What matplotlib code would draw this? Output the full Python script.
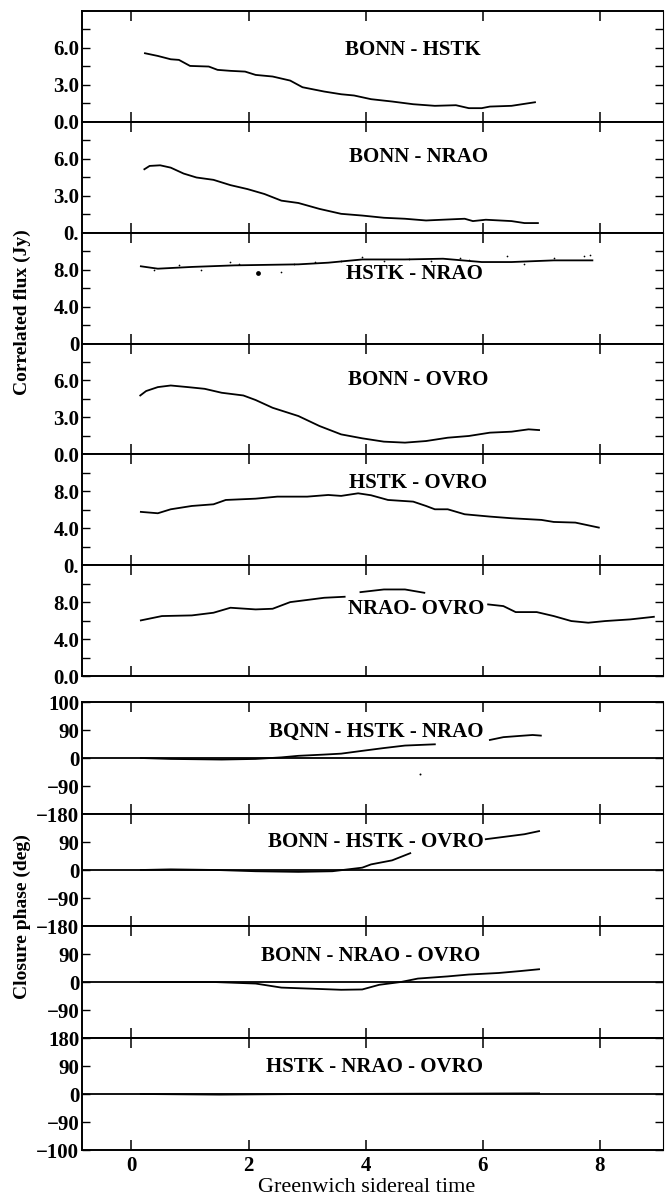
import numpy as np
import matplotlib
matplotlib.use("Agg")
from matplotlib import pyplot as plt

plt.rcParams['font.family'] = ['Liberation Serif', 'DejaVu Serif']

# ---- correlated flux (Jy) vs Greenwich sidereal time (h) ----
bonn_hstk_t = [0.23, 0.45, 0.67, 0.81, 1.0, 1.32, 1.47, 1.69, 1.94, 2.12, 2.41, 2.71, 2.92, 3.29,
               3.58, 3.8, 4.09, 4.45, 4.81, 5.18, 5.54, 5.76, 5.98, 6.12, 6.49, 6.71, 6.89]
bonn_hstk_flux = [5.57, 5.35, 5.08, 5.03, 4.54, 4.49, 4.22, 4.14, 4.08, 3.81, 3.68, 3.35, 2.81, 2.46,
                  2.24, 2.14, 1.84, 1.65, 1.43, 1.30, 1.35, 1.11, 1.11, 1.24, 1.30, 1.46, 1.59]

bonn_nrao_t = [0.22, 0.31, 0.49, 0.67, 0.89, 1.11, 1.40, 1.69, 1.98, 2.27, 2.56, 2.85, 3.21, 3.58,
               3.94, 4.31, 4.67, 5.03, 5.40, 5.69, 5.83, 6.05, 6.49, 6.71, 6.94]
bonn_nrao_flux = [5.15, 5.42, 5.47, 5.28, 4.80, 4.48, 4.29, 3.86, 3.54, 3.14, 2.60, 2.41, 1.93, 1.53,
                  1.39, 1.21, 1.13, 0.99, 1.07, 1.13, 0.94, 1.05, 0.94, 0.78, 0.78]

hstk_nrao_t = [0.16, 0.45, 1.03, 1.76, 2.85, 3.36, 3.94, 4.67, 5.32, 5.98, 6.49, 7.21, 7.87]
hstk_nrao_flux = [8.36, 8.10, 8.29, 8.46, 8.57, 8.75, 9.10, 9.10, 9.18, 8.82, 8.82, 9.00, 9.00]
hstk_nrao_dots_t = [0.38, 0.81, 1.18, 1.69, 1.83, 2.56, 2.78, 3.14, 3.58, 3.94, 4.31, 4.74, 5.11,
                    5.61, 5.76, 6.41, 6.71, 7.21, 7.72, 7.83]
hstk_nrao_dots_flux = [7.93, 8.46, 8.0, 8.79, 8.57, 7.75, 8.64, 8.82, 8.93, 9.36, 8.93, 9.18, 8.93,
                       9.29, 9.0, 9.43, 8.57, 9.29, 9.43, 9.54]
hstk_nrao_spot = (2.16, 7.68)

bonn_ovro_t = [0.15, 0.25, 0.45, 0.67, 0.96, 1.25, 1.54, 1.91, 2.12, 2.41, 2.85, 3.21, 3.58, 3.94,
               4.31, 4.67, 5.03, 5.40, 5.76, 6.12, 6.49, 6.78, 6.96]
bonn_ovro_flux = [4.78, 5.14, 5.46, 5.59, 5.46, 5.32, 5.00, 4.78, 4.41, 3.78, 3.11, 2.30, 1.62, 1.30,
                  1.03, 0.95, 1.08, 1.35, 1.49, 1.76, 1.84, 2.03, 1.97]

hstk_ovro_t = [0.16, 0.45, 0.67, 1.03, 1.40, 1.61, 2.12, 2.49, 3.0, 3.36, 3.58, 3.87, 4.09, 4.38,
               4.81, 5.03, 5.18, 5.40, 5.69, 6.12, 6.49, 7.0, 7.21, 7.58, 7.98]
hstk_ovro_flux = [5.77, 5.62, 6.05, 6.41, 6.59, 7.06, 7.20, 7.42, 7.42, 7.60, 7.50, 7.78, 7.57, 7.06,
                  6.88, 6.41, 6.05, 6.05, 5.51, 5.26, 5.08, 4.90, 4.68, 4.61, 4.07]

# three pieces (broken around the label)
nrao_ovro_t = [[0.16, 0.52, 1.03, 1.40, 1.69, 2.12, 2.41, 2.71, 3.07, 3.29, 3.64],
               [3.91, 4.31, 4.67, 5.0],
               [6.09, 6.35, 6.56, 6.92, 7.21, 7.51, 7.80, 8.09, 8.52, 8.92]]
nrao_ovro_flux = [[6.02, 6.49, 6.56, 6.85, 7.39, 7.21, 7.28, 8.0, 8.29, 8.47, 8.58],
                  [9.08, 9.37, 9.37, 9.01],
                  [7.75, 7.57, 6.92, 6.92, 6.49, 5.95, 5.77, 5.95, 6.13, 6.41]]

# ---- closure phase (deg) ----
bhn_t = [[0.16, 0.67, 1.54, 2.12, 2.56, 2.85, 3.29, 3.58, 3.94, 4.31, 4.67, 5.18],
         [6.12, 6.35, 6.63, 6.85, 6.99]]
bhn_phase = [[0, -3, -5, -3, 2, 7, 11, 14, 23, 32, 40, 44],
             [58, 67, 71, 74, 72]]
bhn_dot = (4.92, -51)

bho_t = [[0.16, 0.67, 1.46, 2.12, 2.85, 3.43, 3.94, 4.09, 4.45, 4.76],
         [6.05, 6.34, 6.71, 6.96]]
bho_phase = [[0, 2, 0, -4, -6, -4, 7.5, 18, 31, 54],
             [99, 106, 115, 125]]

bno_t = [0.16, 1.40, 2.12, 2.56, 3.0, 3.58, 3.94, 4.23, 4.60, 4.89, 5.40, 5.76, 6.27, 6.63, 6.96]
bno_phase = [0, 0, -5, -18, -21, -25, -24, -9, 0, 11, 18, 24, 29, 35, 41]

hno_t = [0.16, 1.5, 3.0, 5.0, 6.96]
hno_phase = [0, -2, 0, 1, 2]

flux_names = ["BONN - HSTK", "BONN - NRAO", "HSTK - NRAO", "BONN - OVRO", "HSTK - OVRO", "NRAO- OVRO"]
flux_label_pos = [(4.81, 5.8), (4.9, 6.17), (4.84, 7.5), (4.9, 6.03), (4.9, 8.86), (4.86, 7.3)]
flux_tops = [9, 9, 12, 9, 12, 12]
flux_zero_labels = ["0.0", "0.", "0", "0.0", "0.", "0.0"]

phase_names = ["BQNN - HSTK - NRAO", "BONN - HSTK - OVRO", "BONN - NRAO - OVRO", "HSTK - NRAO - OVRO"]
phase_label_pos = [(4.18, 83), (4.17, 89), (4.09, 84), (4.15, 87)]
phase_ticks = [[180, 90, 0, -90, -180], [90, 0, -90, -180], [90, 0, -90], [180, 90, 0, -90, -180]]
phase_ticklabels = [["100", "90", "0", "\u221290", "\u2212180"],
                    ["90", "0", "\u221290", "\u2212180"],
                    ["90", "0", "\u221290"],
                    ["180", "90", "0", "\u221290", "\u2212100"]]

xticks = [0, 2, 4, 6, 8]

W, H = 666, 1199
fig = plt.figure(figsize=(W / 100, H / 100), dpi=100)
left, right = 82, 663
xlim = (-0.845, 9.076)


def make_ax(top_px, bot_px):
    ax = fig.add_axes([left / W, 1 - bot_px / H, (right - left) / W, (bot_px - top_px) / H])
    ax.set_xlim(*xlim)
    for s in ax.spines.values():
        s.set_linewidth(1.4)
    ax.spines['right'].set_linewidth(0.8)
    ax.set_xticks(xticks)
    ax.tick_params(axis='x', which='both', direction='in', top=True, bottom=True,
                   length=7, width=1.1, labelbottom=False)
    ax.tick_params(axis='y', which='both', direction='in', left=True, right=True,
                   length=6, width=1.0, pad=2)
    return ax


fkw = dict(fontsize=15, fontweight='bold', ha='center', va='center')
lkw = dict(color='k', lw=1.3)
tick_fs = 15

# flux panels
flux_t = [bonn_hstk_t, bonn_nrao_t, hstk_nrao_t, bonn_ovro_t, hstk_ovro_t, None]
flux_v = [bonn_hstk_flux, bonn_nrao_flux, hstk_nrao_flux, bonn_ovro_flux, hstk_ovro_flux, None]
ftop, fbot = 11, 676
fh = (fbot - ftop) / 6
for i in range(6):
    ax = make_ax(ftop + i * fh, ftop + (i + 1) * fh)
    top = flux_tops[i]
    ax.set_ylim(0, top)
    if top == 9:
        ticks = [0, 1.5, 3, 4.5, 6, 7.5]
        labels = [flux_zero_labels[i], "", "3.0", "", "6.0", ""]
    else:
        ticks = [0, 2, 4, 6, 8, 10]
        labels = [flux_zero_labels[i], "", "4.0", "", "8.0", ""]
    ax.set_yticks(ticks)
    ax.set_yticklabels(labels, fontweight='bold', fontsize=tick_fs)
    if i < 5:
        ax.plot(flux_t[i], flux_v[i], **lkw)
    else:
        for t, v in zip(nrao_ovro_t, nrao_ovro_flux):
            ax.plot(t, v, **lkw)
    if i == 2:
        ax.scatter(hstk_nrao_dots_t, hstk_nrao_dots_flux, s=1.5, color='k', lw=0)
        ax.scatter([hstk_nrao_spot[0]], [hstk_nrao_spot[1]], s=12, color='k', lw=0)
    ax.text(flux_label_pos[i][0], flux_label_pos[i][1], flux_names[i], **fkw)

# phase panels
phase_t = [bhn_t, bho_t, [bno_t], [hno_t]]
phase_v = [bhn_phase, bho_phase, [bno_phase], [hno_phase]]
ptop, pbot = 702, 1150
ph = (pbot - ptop) / 4
for i in range(4):
    ax = make_ax(ptop + i * ph, ptop + (i + 1) * ph)
    ax.set_ylim(-180, 180)
    ax.set_yticks(phase_ticks[i])
    ax.set_yticklabels(phase_ticklabels[i], fontweight='bold', fontsize=tick_fs)
    ax.axhline(0, color='k', lw=1.3)
    for t, v in zip(phase_t[i], phase_v[i]):
        ax.plot(t, v, **lkw)
    if i == 0:
        ax.scatter([bhn_dot[0]], [bhn_dot[1]], s=2, color='k', lw=0)
    ax.text(phase_label_pos[i][0], phase_label_pos[i][1], phase_names[i], **fkw)
    if i == 3:
        ax.tick_params(axis='x', labelbottom=True, labelsize=tick_fs, pad=4)
        for lab in ax.get_xticklabels():
            lab.set_fontweight('bold')

fig.text(22 / W, 1 - 312 / H, "Correlated flux (Jy)", rotation=90, fontsize=14,
         fontweight='bold', ha='center', va='center')
fig.text(22 / W, 1 - 917 / H, "Closure phase (deg)", rotation=90, fontsize=14,
         fontweight='bold', ha='center', va='center')
fig.text(367 / W, 1 - 1187 / H, "Greenwich sidereal time", fontsize=16,
         ha='center', va='center')

fig.savefig("out.png", dpi=100)
